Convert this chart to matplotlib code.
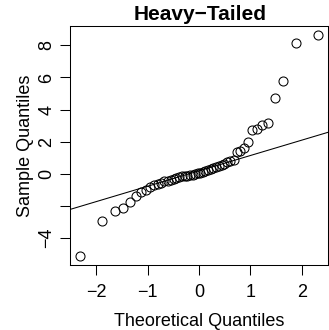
import numpy as np
import matplotlib
matplotlib.use('Agg')
import matplotlib.pyplot as plt

plt.rcParams['font.family'] = ['Liberation Sans', 'DejaVu Sans']

# theoretical quantiles (normal, n = 50) and sorted sample values
theo = [-2.326, -1.881, -1.645, -1.476, -1.341, -1.227, -1.126, -1.036, -0.954, -0.878,
        -0.806, -0.739, -0.674, -0.613, -0.553, -0.496, -0.440, -0.385, -0.332, -0.279,
        -0.228, -0.176, -0.126, -0.075, -0.025, 0.025, 0.075, 0.126, 0.176, 0.228,
        0.279, 0.332, 0.385, 0.440, 0.496, 0.553, 0.613, 0.674, 0.739, 0.806,
        0.878, 0.954, 1.036, 1.126, 1.227, 1.341, 1.476, 1.645, 1.881, 2.326]
sample = [-5.15, -2.97, -2.35, -2.14, -1.76, -1.40, -1.15, -1.00, -0.85, -0.74,
          -0.65, -0.57, -0.49, -0.43, -0.37, -0.31, -0.26, -0.21, -0.17, -0.14,
          -0.12, -0.10, -0.07, -0.03, 0.01, 0.06, 0.11, 0.17, 0.24, 0.30,
          0.37, 0.43, 0.50, 0.56, 0.62, 0.70, 0.78, 0.83, 1.33, 1.43,
          1.60, 1.99, 2.74, 2.80, 3.05, 3.16, 4.71, 5.75, 8.18, 8.66]
x_ticks = [-2, -1, 0, 1, 2]
x_labels = ['\u22122', '\u22121', '0', '1', '2']
y_ticks = [-4, -2, 0, 2, 4, 6, 8]
y_labels = ['\u22124', '', '0', '2', '4', '6', '8']

W, H = 329, 330
fig = plt.figure(figsize=(W / 100, H / 100), dpi=100)
ax = fig.add_axes([70 / W, 65 / H, 258 / W, 239 / H])

ax.plot(theo, sample, 'o', mfc='none', mec='black', ms=6.5, mew=0.75)

# qqline through the quartiles
q = np.percentile(sample, [25, 75])
tq = np.array([-0.6745, 0.6745])
slope = (q[1] - q[0]) / (tq[1] - tq[0])
icept = q[0] - slope * tq[0]
xs = np.array([-3, 3])
ax.plot(xs, icept + slope * xs, color='black', lw=0.75)

xr = max(theo) - min(theo)
yr = max(sample) - min(sample)
ax.set_xlim(min(theo) - 0.04 * xr, max(theo) + 0.04 * xr)
ax.set_ylim(min(sample) - 0.04 * yr, max(sample) + 0.04 * yr)

ax.set_xticks(x_ticks)
ax.set_xticklabels(x_labels)
ax.set_yticks(y_ticks)
ax.set_yticklabels(y_labels, rotation=90, va='center')
ax.tick_params(direction='out', length=7.5, width=0.75, labelsize=13)
ax.tick_params(axis='x', pad=6.5)
ax.tick_params(axis='y', pad=3)
for s in ax.spines.values():
    s.set_linewidth(0.75)

fig.text(199 / W, 1 - 321 / H, 'Theoretical Quantiles', fontsize=13, ha='center', va='center')
fig.text(25 / W, 1 - 145.5 / H, 'Sample Quantiles', fontsize=13, ha='center', va='center',
         rotation=90)
fig.text(200 / W, 1 - 19.5 / H, 'Heavy\u2212Tailed', fontsize=15, fontweight='bold',
         ha='center', va='baseline')

fig.savefig('out.png', dpi=100)
